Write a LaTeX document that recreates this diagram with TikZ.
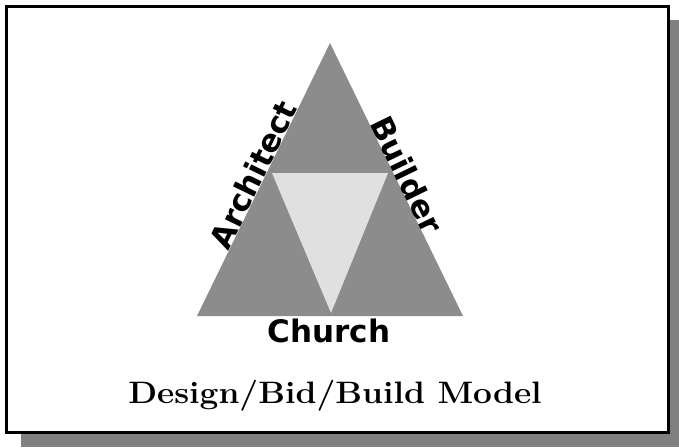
\documentclass[tikz,border=0pt]{standalone}
\usepackage{fontspec}
\usetikzlibrary{calc}
\newfontfamily\labelfont{DejaVu Sans}
\begin{document}
\begin{tikzpicture}[x=1pt,y=-1pt,
  shadowbox/.style={fill=shadowgray,draw=none},
  framebox/.style={fill=white,draw=black,line width=3pt},
  outertri/.style={fill=trigray,draw=none},
  innertri/.style={fill=innergray,draw=none},
  sidelabel/.style={font=\labelfont\bfseries\fontsize{31}{31}\selectfont,inner sep=0pt,anchor=base},
  titlelabel/.style={font=\bfseries\fontsize{31}{31}\selectfont,inner sep=0pt,anchor=base,xscale=1.08}]
\definecolor{shadowgray}{RGB}{128,128,128}
\definecolor{trigray}{RGB}{140,140,140}
\definecolor{innergray}{RGB}{224,224,224}
\useasboundingbox (0,0) rectangle (679,447);
% drop shadow and frame
\fill[shadowbox] (21,20) rectangle (679,447);
\draw[framebox] (6.5,6.5) rectangle (668.5,432.5);
% outer triangle corners
\coordinate (apex) at (330,43);
\coordinate (bl) at (197,316);
\coordinate (br) at (463,316);
% inner inverted triangle corners
\coordinate (il) at (272,173);
\coordinate (ir) at (388,173);
\coordinate (ib) at (331,313);
\fill[outertri] (apex) -- (br) -- (bl) -- cycle;
\fill[innertri] (il) -- (ir) -- (ib) -- cycle;
% side labels
\node[sidelabel,rotate=64] (architect) at ($(bl)!0.5!(apex)$) {Architect};
\node[sidelabel,rotate=-64] (builder) at ($(apex)!0.5!(br)$) {Builder};
\node[sidelabel] (church) at (329,342) {Church};
% caption
\node[titlelabel] (title) at (335,403) {Design/Bid/Build Model};
\end{tikzpicture}
\end{document}
